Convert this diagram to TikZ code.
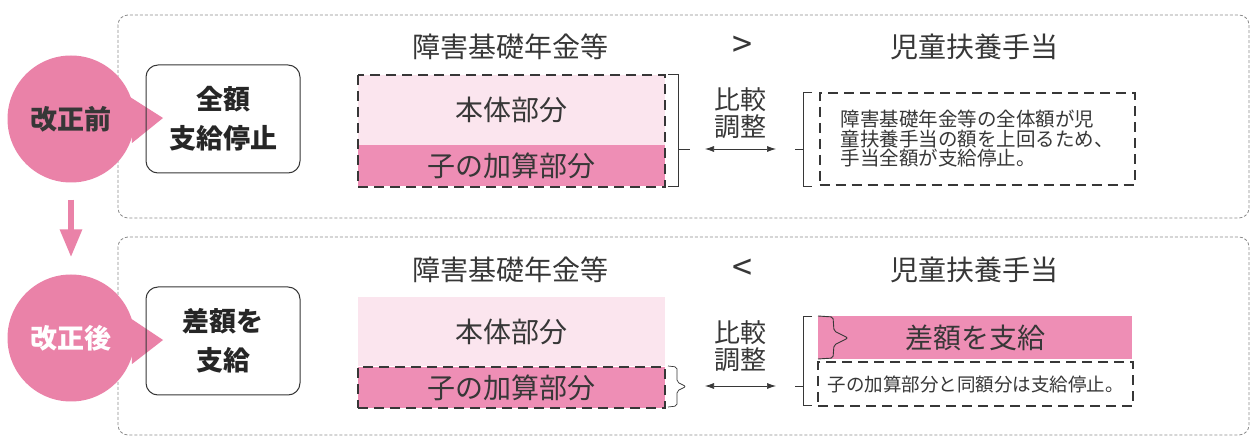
\documentclass[tikz,border=0pt]{standalone}
\usepackage{fontspec}
\setmainfont{Noto Sans CJK JP}
\usepackage{xcolor}
\usetikzlibrary{arrows.meta}
\usetikzlibrary{positioning}
\definecolor{circlePink}{RGB}{234,130,168}
\definecolor{barPink}{RGB}{238,142,181}
\definecolor{palePink}{RGB}{251,229,238}
\definecolor{inkGray}{RGB}{55,55,55}
\definecolor{frameGray}{RGB}{140,140,140}

\begin{document}
\begin{tikzpicture}[x=1pt, y=-1pt,
		every node/.style={inner sep=0pt, text=inkGray},
		panel/.style={draw=frameGray, line width=0.8pt, dash pattern=on 3pt off 2pt, rounded corners=10pt},
		stage/.style={circle, fill=circlePink, minimum size=127pt, font=\bfseries\fontsize{27}{30}\selectfont},
		verdict/.style={draw=inkGray, line width=1pt, rounded corners=12pt, minimum width=154pt, minimum height=108pt, align=center, text=black!85, font=\bfseries\fontsize{27}{39}\selectfont},
		heading/.style={font=\fontsize{28}{30}\selectfont},
		bar/.style={minimum width=307pt, font=\fontsize{28}{30}\selectfont},
		dashbox/.style={draw=inkGray, line width=2pt, dash pattern=on 10pt off 6pt},
		note/.style={dashbox, minimum width=315pt, align=left},
		bracketLine/.style={draw=inkGray, line width=0.7pt},
		compare/.style={bracketLine, {Latex[length=9pt,width=6pt]}-{Latex[length=9pt,width=6pt]}},
		compareText/.style={align=center, font=\fontsize{26}{27}\selectfont}]
	\fill[white] (0,0) rectangle (1251,438);
	\useasboundingbox (0,0) rectangle (1251,438);
	
	\draw[panel] (118,15) rectangle (1249,218);
	\draw[panel] (118,237) rectangle (1249,435);
	
	% stage circles
	\fill[circlePink] (130,97) -- (163,118) -- (132,143) -- cycle;
	\node[stage] (beforeStage) at (71,119) {改正前};
	\fill[circlePink] (130,318) -- (163,340) -- (132,364) -- cycle;
	\node[stage, text=white] (afterStage) at (71,338) {改正後};
	\draw[circlePink, line width=6pt, -{Triangle[length=28pt,width=21pt]}, shorten <=17pt, shorten >=17pt] (beforeStage) -- (afterStage);
	
	\node[verdict] (beforeVerdict) at (223,119) {全額\\支給停止};
	\node[verdict] (afterVerdict) at (223,341) {差額を\\支給};
	
	\foreach \yRow/\sign[count=\iRow] in {47/>, 270/<}
	{
		\node[heading] (pensionHead\iRow) at (510,\yRow) {障害基礎年金等};
		\node[heading, font=\fontsize{36}{36}\selectfont] (signHead\iRow) at (742,\yRow) {\sign};
		\node[heading] (allowanceHead\iRow) at (974,\yRow) {児童扶養手当};
	}
	
	% before
	\node[bar, minimum height=70pt, fill=palePink] (bodyBefore) at (511.5,110) {本体部分};
	\node[bar, minimum height=41pt, fill=barPink, below=0pt of bodyBefore] (childBefore) {子の加算部分};
	\draw[dashbox] (bodyBefore.north west) rectangle (childBefore.south east);
	\draw[bracketLine] (668,74) -- (678,74) -- (678,186) -- (668,186);
	\draw[bracketLine] (678,149) -- (690,149);
	\coordinate (arrowBeforeL) at (705,149);
	\coordinate (arrowBeforeR) at (776,149);
	\draw[compare] (arrowBeforeL) -- (arrowBeforeR);
	\node[compareText] (compareBefore) at (740,113) {比較\\調整};
	\draw[bracketLine] (812,92) -- (803,92) -- (803,186) -- (812,186);
	\draw[bracketLine] (795,149) -- (803,149);
	\node[note, minimum height=92pt, font=\fontsize{19.5}{19.5}\selectfont] (noteBefore) at (977,139) {障害基礎年金等の全体額が児\\童扶養手当の額を上回るため、\\手当全額が支給停止。};
	
	% after
	\node[bar, minimum height=69pt, fill=palePink] (bodyAfter) at (511.5,331.5) {本体部分};
	\node[bar, minimum height=41pt, fill=barPink, dashbox, below=0pt of bodyAfter] (childAfter) {子の加算部分};
	\draw[bracketLine, rounded corners=2pt] (668,366) -- (677,367) -- (677,382) -- (686,386.5) -- (677,391) -- (677,406) -- (668,407);
	\coordinate (arrowAfterL) at (705,386);
	\coordinate (arrowAfterR) at (776,386);
	\draw[compare] (arrowAfterL) -- (arrowAfterR);
	\node[compareText] (compareAfter) at (740,346) {比較\\調整};
	\draw[bracketLine] (812,316) -- (803,316) -- (803,405) -- (812,405);
	\draw[bracketLine] (795,386) -- (803,386);
	\node[bar, minimum width=314pt, minimum height=43pt, fill=barPink] (gapPay) at (975,337.5) {差額を支給};
	\draw[bracketLine, line width=0.9pt, rounded corners=2pt] (818,316) -- (833,317) -- (834,331) -- (848,338) -- (834,345) -- (833,358) -- (818,359);
	\node[note, minimum height=44pt, text width=315pt, align=center, font=\fontsize{18.5}{20}\selectfont] (noteAfter) at (975.5,384) {子の加算部分と同額分は支給停止。};
\end{tikzpicture}
\end{document}
